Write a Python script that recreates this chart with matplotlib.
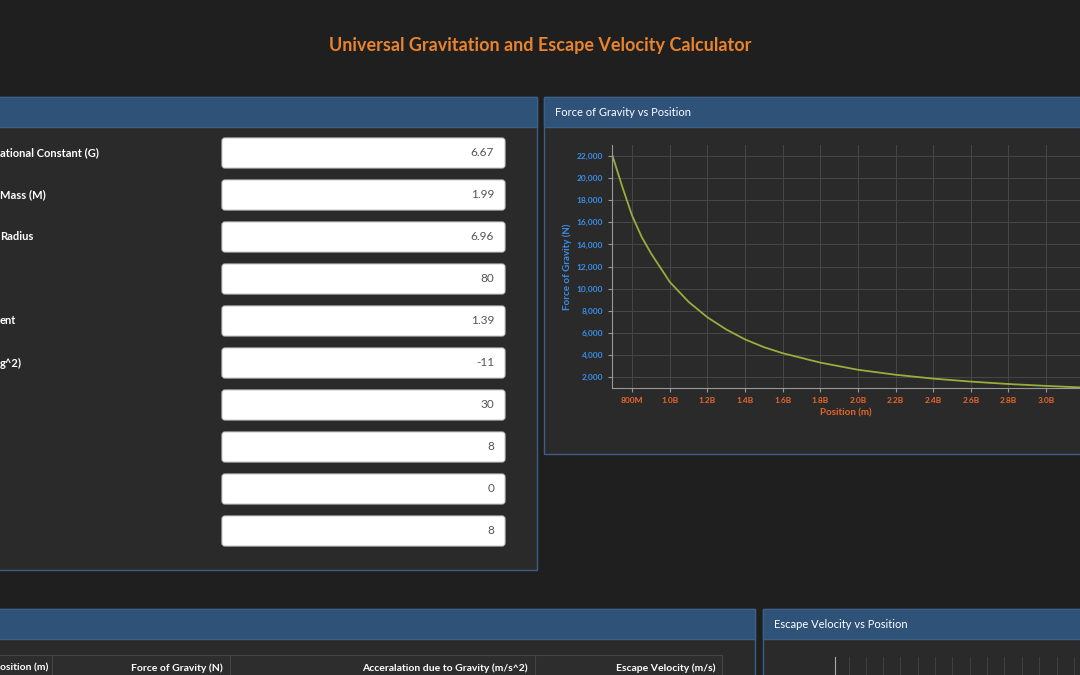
import numpy as np
import matplotlib.pyplot as plt
from matplotlib.patches import Rectangle, FancyBboxPatch
from matplotlib.ticker import FuncFormatter, MultipleLocator

# values
input_labels = ["ational Constant (G)", "Mass (M)", "Radius", "", "ent", "g^2)", "", "", "", ""]
input_values = ["6.67", "1.99", "6.96", "80", "1.39", "-11", "30", "8", "0", "8"]

position_b = [0.696, 0.75, 0.8, 0.85, 0.9, 1.0, 1.1, 1.2, 1.3, 1.4, 1.5, 1.6,
              1.8, 2.0, 2.2, 2.4, 2.6, 2.8, 3.0, 3.2]
force_n = [22000, 19100, 16600, 14700, 13200, 10600, 8800, 7400, 6300, 5400, 4700, 4150,
           3300, 2650, 2200, 1850, 1580, 1360, 1190, 1040]

table_headers = ["osition (m)", "Force of Gravity (N)", "Acceralation due to Gravity (m/s^2)",
                 "Escape Velocity (m/s)"]

W, H = 1080, 675
plt.rcParams["font.family"] = "Lato"
fig = plt.figure(figsize=(W / 100, H / 100), dpi=100)
fig.patch.set_facecolor("#1f1f1f")
bg = fig.add_axes([0, 0, 1, 1])
bg.set_xlim(0, W)
bg.set_ylim(H, 0)
bg.axis("off")

HEADER = "#2f5279"
BODY = "#2a2a2a"
EDGE = "#3d5f85"


def panel(x0, y0, x1, y1, title=None):
    bg.add_patch(Rectangle((x0, y0), x1 - x0, y1 - y0, fc=BODY, ec=EDGE, lw=1))
    bg.add_patch(Rectangle((x0, y0), x1 - x0, 30, fc=HEADER, ec=EDGE, lw=1))
    if title:
        bg.text(x0 + 11, y0 + 15, title, color="white", fontsize=8, va="center")


bg.text(540, 45, "Universal Gravitation and Escape Velocity Calculator", color="#e8832e",
        fontsize=13, fontweight="bold", ha="center", va="center")

panel(-5, 97, 537, 570)
panel(544, 97, 1085, 454, "Force of Gravity vs Position")
panel(-5, 609, 755, 690)
panel(763, 609, 1085, 690, "Escape Velocity vs Position")

for i, (lab, val) in enumerate(zip(input_labels, input_values)):
    yc = 153 + 42 * i
    bg.add_patch(FancyBboxPatch((222, yc - 15), 283, 30, boxstyle="round,pad=0,rounding_size=3",
                                fc="white", ec="#cccccc", lw=0.8))
    bg.text(494, yc, val, color="#555555", fontsize=8.5, ha="right", va="center")
    if lab:
        bg.text(0, yc, lab, color="white", fontsize=8, fontweight="bold", va="center")

# table header
bg.add_patch(Rectangle((-5, 655), 727, 25, fc="#2d2d2d", ec="#444444", lw=0.8))
for xs in [52, 230, 535, 722]:
    bg.plot([xs, xs], [655, 680], color="#444444", lw=0.8)
bg.text(0, 668, table_headers[0], color="white", fontsize=7.5, fontweight="bold", va="center")
for txt, xr in zip(table_headers[1:], [223, 528, 716]):
    bg.text(xr, 668, txt, color="white", fontsize=7.5, fontweight="bold", ha="right", va="center")

# escape velocity chart peek
for xs in [849, 866, 883, 900, 918, 935, 952, 970, 987, 1004, 1022, 1039, 1057, 1074]:
    bg.plot([xs, xs], [657, 680], color="#444444", lw=0.6)
bg.plot([835, 835], [657, 680], color="#aaaaaa", lw=0.8)

# force chart
ax = fig.add_axes([612 / W, 1 - 388 / H, (1080 - 612) / W, (388 - 145) / H])
ax.set_facecolor(BODY)
ax.plot(np.array(position_b) * 1e9, force_n, color="#9aad3c", lw=1.3)
ax.set_xlim(0.693e9, 3.18e9)
ax.set_ylim(1000, 23000)
ax.xaxis.set_major_locator(MultipleLocator(2e8))
ax.yaxis.set_major_locator(MultipleLocator(2000))


def fmt_x(v, _):
    return f"{v / 1e6:.0f}M" if v < 1e9 else f"{v / 1e9:.1f}B"


ax.xaxis.set_major_formatter(FuncFormatter(fmt_x))
ax.yaxis.set_major_formatter(FuncFormatter(lambda v, _: f"{v:,.0f}"))
ax.grid(True, color="#474747", lw=0.7)
for s in ["top", "right"]:
    ax.spines[s].set_visible(False)
for s in ["left", "bottom"]:
    ax.spines[s].set_color("#999999")
ax.tick_params(axis="x", colors="#999999", labelcolor="#e8662a", labelsize=6, length=3)
ax.tick_params(axis="y", colors="#999999", labelcolor="#3b8ee8", labelsize=6, length=3)
for t in ax.get_xticklabels() + ax.get_yticklabels():
    t.set_fontweight("bold")
ax.set_xlabel("Position (m)", color="#e8662a", fontsize=7, fontweight="bold", labelpad=3)
ax.set_ylabel("Force of Gravity (N)", color="#3b8ee8", fontsize=7, fontweight="bold", labelpad=3)

fig.savefig("out.png", dpi=100, facecolor=fig.get_facecolor())
